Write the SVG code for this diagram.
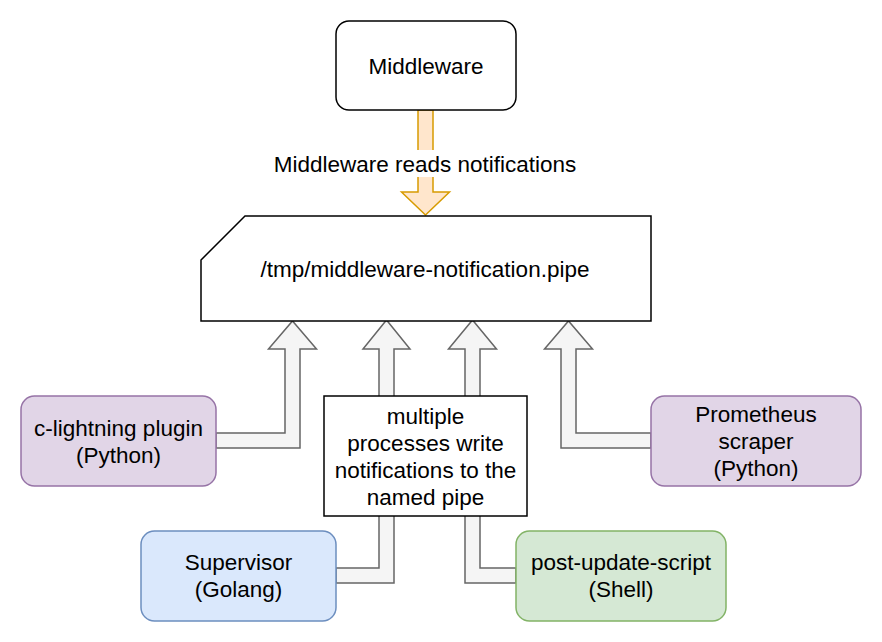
<svg xmlns="http://www.w3.org/2000/svg" width="882" height="642" viewBox="0 0 882 642">
<style>
text{font-family:"Liberation Sans",Arial,sans-serif;font-size:22.5px;fill:#000;text-anchor:middle}
.flow{fill:#f5f5f5;stroke:#666666;stroke-width:1.5;stroke-linejoin:miter}
.purple{fill:#e1d5e7;stroke:#9673a6;stroke-width:1.5}
.blue{fill:#dae8fc;stroke:#6c8ebf;stroke-width:1.5}
.green{fill:#d5e8d4;stroke:#82b366;stroke-width:1.5}
.plain{fill:#fff;stroke:#000;stroke-width:1.5}
</style>
<rect width="882" height="642" fill="#fff"/>
<g id="connectors">
<polygon class="flow" points="216,433 285,433 285,349 268.5,349 292.5,321 316.5,349 300,349 300,448 216,448"/>
<polygon class="flow" points="336,568 379,568 379,349 363,349 386.5,320 410,349 394,349 394,583 336,583"/>
<polygon class="flow" points="516,568 480,568 480,349 496.5,349 472.5,320 448.5,349 465,349 465,583 516,583"/>
<polygon class="flow" points="651,433 576,433 576,349 592.5,349 568.5,321 544.5,349 561,349 561,448 651,448"/>
<g id="reads-arrow">
<polygon points="418,110 433,110 433,192 449.5,192 425.5,215 401.5,192 418,192" fill="#ffe6cc" stroke="#d79b00" stroke-width="1.5"/>
<rect x="271" y="150" width="308" height="27" fill="#fff"/>
<text x="425" y="172">Middleware reads notifications</text>
</g>
</g>
<g id="middleware">
<rect class="plain" x="336" y="21" width="180" height="89" rx="13" ry="13"/>
<text x="426" y="73.5">Middleware</text>
</g>
<g id="pipe">
<path class="plain" d="M201,260 L245,216 L651,216 L651,321 L201,321 Z"/>
<text x="425" y="276.5">/tmp/middleware-notification.pipe</text>
</g>
<g id="note">
<rect class="plain" x="324" y="396" width="203" height="120"/>
<text x="425.5" y="423.5">multiple</text>
<text x="425.5" y="450.5">processes write</text>
<text x="425.5" y="477.5">notifications to the</text>
<text x="425.5" y="504.5">named pipe</text>
</g>
<g id="c-lightning">
<rect class="purple" x="21" y="396" width="195" height="90" rx="13.5" ry="13.5"/>
<text x="118.5" y="435.5">c-lightning plugin</text>
<text x="118.5" y="462.5">(Python)</text>
</g>
<g id="prometheus">
<rect class="purple" x="651" y="396" width="210" height="90" rx="13.5" ry="13.5"/>
<text x="756" y="422">Prometheus</text>
<text x="756" y="449">scraper</text>
<text x="756" y="476">(Python)</text>
</g>
<g id="supervisor">
<rect class="blue" x="141" y="531" width="195" height="90" rx="13.5" ry="13.5"/>
<text x="238.5" y="570">Supervisor</text>
<text x="238.5" y="597">(Golang)</text>
</g>
<g id="post-update">
<rect class="green" x="516" y="531" width="210" height="90" rx="13.5" ry="13.5"/>
<text x="621" y="570">post-update-script</text>
<text x="621" y="597">(Shell)</text>
</g>
</svg>
